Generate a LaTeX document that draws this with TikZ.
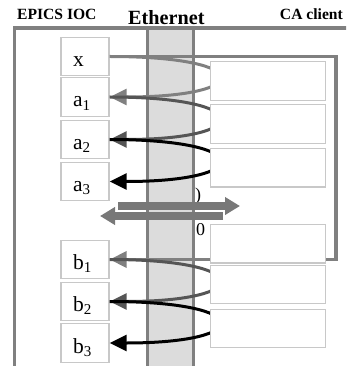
\documentclass[tikz,border=0pt]{standalone}
\usepackage{fontspec}
\setmainfont{Liberation Serif}
\usetikzlibrary{arrows.meta}
\definecolor{wire}{HTML}{808080}
\definecolor{darkwire}{HTML}{555555}
\definecolor{bandfill}{HTML}{DCDCDC}
\definecolor{boxline}{HTML}{C8C8C8}
\definecolor{bigarrow}{HTML}{787878}
\begin{document}
\begin{tikzpicture}[x=1pt,y=-1pt,
  cell/.style={draw=boxline, line width=1.3pt, fill=white,
    minimum width=48pt, minimum height=38.5pt, inner sep=0pt,
    inner xsep=12pt, text width=24pt, align=left,
    text height=22pt, text depth=2pt,
    font=\fontsize{21.5}{21.5}\selectfont},
  slot/.style={draw=boxline, line width=1.3pt, fill=white,
    minimum width=115.5pt, minimum height=38.5pt, inner sep=0pt},
  heading/.style={inner sep=0pt, font=\bfseries\fontsize{15.6}{15.6}\selectfont},
  loopline/.style={line width=3pt, -{Triangle[length=17pt,width=16pt]}},
  bigline/.style={bigarrow, line width=8pt, -{Triangle[length=15pt,width=17pt]}},
  digit/.style={inner sep=0pt, font=\fontsize{18}{18}\selectfont}]
\useasboundingbox (0,0) rectangle (346,366);
\clip (0,0) rectangle (346,366);

% Ethernet band
\fill[bandfill] (146,28) rectangle (194,370);
\draw[wire, line width=3pt] (147.5,28) -- (147.5,370) (193.5,28) -- (193.5,370);

% IOC frame
\draw[wire, line width=3.5pt] (352,28) -- (14.5,28) -- (14.5,372);

% stray digits beside the band
\node[digit, anchor=base west] (pa) at (195,200) {)};
\node[digit, anchor=base west] (pb) at (196,235) {0};

% IOC records
\node[cell] (xb) at (85,56.5) {x};
\node[cell] (a1) at (85,97) {a\textsubscript{1}};
\node[cell] (a2) at (85,139.5) {a\textsubscript{2}};
\node[cell] (a3) at (85,181.5) {a\textsubscript{3}};
\node[cell] (b1) at (85,259.5) {b\textsubscript{1}};
\node[cell] (b2) at (85,301.5) {b\textsubscript{2}};
\node[cell] (b3) at (85,343) {b\textsubscript{3}};

% monitor path from x round to b1
\coordinate (fc) at (336,150);
\draw[wire, line width=3.5pt, line join=miter, -{Triangle[length=17pt,width=16pt]}]
  (xb.east) -| (fc) |- (b1.east);

% request / reply loops
\draw[loopline, wire] (xb.east) .. controls +(146,0) and +(146,0) .. (a1.east);
\draw[loopline, darkwire] (a1.east) .. controls +(146,0) and +(146,0) .. (a2.east);
\draw[loopline, black] (a2.east) .. controls +(146,0) and +(146,0) .. (a3.east);
\draw[loopline, darkwire] (b1.east) .. controls +(146,0) and +(146,0) .. (b2.east);
\draw[loopline, black] (b2.east) .. controls +(146,0) and +(146,0) .. (b3.east);

% traffic across the network
\coordinate (ra) at (118,206);
\coordinate (rb) at (240,206);
\coordinate (la) at (223,216);
\coordinate (lb) at (100,216);
\draw[bigline] (ra) -- (rb);
\draw[bigline] (la) -- (lb);

% client slots
\node[slot] (r1) at (268,81) {};
\node[slot] (r2) at (268,124) {};
\node[slot] (r3) at (268,167.8) {};
\node[slot] (r4) at (268,243.7) {};
\node[slot] (r5) at (268,284.5) {};
\node[slot] (r6) at (268,328.5) {};

% headings
\node[heading, anchor=base west] (ioc) at (17,19.5) {EPICS IOC};
\node[heading, anchor=base west, font=\bfseries\fontsize{20.2}{20.2}\selectfont] (eth) at (128,25) {Ethernet};
\node[heading, anchor=base east] (cac) at (343,19.5) {CA client};
\end{tikzpicture}
\end{document}
